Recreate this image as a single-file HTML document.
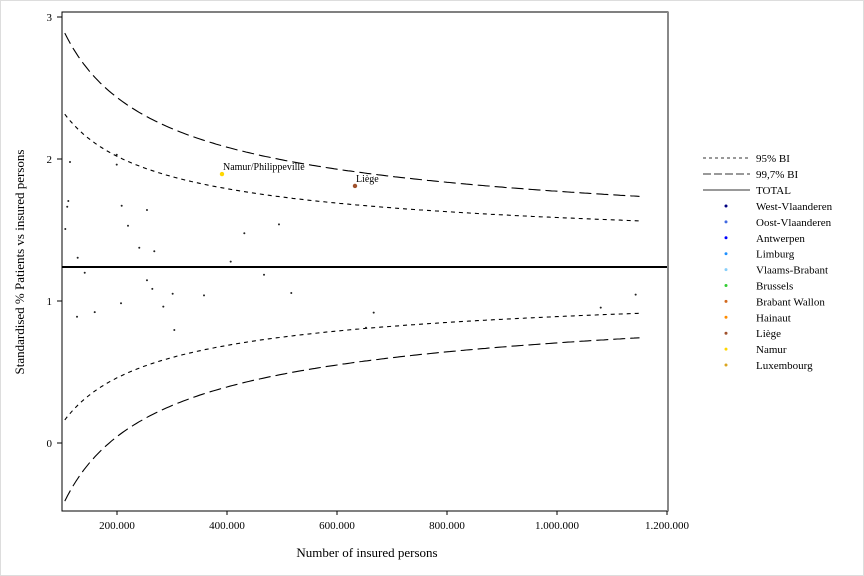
<!DOCTYPE html>
<html><head><meta charset="utf-8"><style>
body{margin:0;background:#fff;}
svg{display:block;font-family:"Liberation Serif",serif;}
</style></head><body>
<svg id="chart" width="864" height="576" viewBox="0 0 864 576">
<rect x="0.5" y="0.5" width="863" height="575" fill="#fff" stroke="#ddd"/>
<g id="plot"></g>
<g id="legend"></g>
<text x="367" y="557" font-size="13" text-anchor="middle">Number of insured persons</text>
<text transform="translate(24,262) rotate(-90)" font-size="13" text-anchor="middle">Standardised % Patients vs insured persons</text>
</svg>
<script>
const xTicks=[200000,400000,600000,800000,1000000,1200000];
const xTickLabels=["200.000","400.000","600.000","800.000","1.000.000","1.200.000"];
const yTicks=[0,1,2,3];
const yTickLabels=["0","1","2","3"];
const total=1.239;
const spreadK=178;
const pointsX=[114545,199500,199500,111500,109500,106000,208500,254500,220000,240500,267800,128500,431500,494500,406700,141300,254500,264200,467300,301200,358200,516900,207300,284200,159500,127300,304200,666700,652700,1079500,1143000];
const pointsY=[1.979,2.03,1.96,1.704,1.664,1.507,1.671,1.641,1.530,1.375,1.350,1.305,1.477,1.540,1.277,1.199,1.146,1.085,1.185,1.051,1.040,1.056,0.984,0.960,0.922,0.889,0.796,0.918,0.812,0.953,1.045];
const labelNames=["Namur/Philippeville","Liège"];
const labelX=[390900,632700];
const labelY=[1.894,1.810];
const labelColors=["#ffd700","#a0522d"];
const legendNames=["West-Vlaanderen","Oost-Vlaanderen","Antwerpen","Limburg","Vlaams-Brabant","Brussels","Brabant Wallon","Hainaut","Liège","Namur","Luxembourg"];
const legendColors=["#000080","#4169e1","#0000ff","#1e90ff","#87cefa","#32cd32","#d2691e","#ff8c00","#a0522d","#ffd700","#daa520"];

const NS="http://www.w3.org/2000/svg";
const L=62,R=668,T=12,B=511;
const xs=v=>117+(v-200000)*0.00055;
const ys=v=>443-142*v;
const plot=document.getElementById('plot');
function mk(tag,attrs,parent){const e=document.createElementNS(NS,tag);for(const k in attrs)e.setAttribute(k,attrs[k]);(parent||plot).appendChild(e);return e;}

// clip
const defs=mk('defs',{});
const cp=mk('clipPath',{id:'clip'},defs);mk('rect',{x:L,y:T,width:R-L,height:B-T},cp);
const inner=mk('g',{'clip-path':'url(#clip)'});

// control limits
function curve(z,sign){let d='';for(let n=105000;n<=1150000;n+=5000){const v=total+sign*z*spreadK/Math.sqrt(n);d+=(d?'L':'M')+xs(n).toFixed(1)+','+ys(v).toFixed(1);}return d;}
[[1.96,'4,4','ci95'],[3,'12,5','ci997']].forEach(([z,da,nm])=>{[1,-1].forEach(s=>{
const p=mk('path',{d:curve(z,s),fill:'none',stroke:'#000','stroke-width':1.1,'stroke-dasharray':da},inner);

});});
const tl=mk('line',{x1:L,x2:R,y1:ys(total),y2:ys(total),stroke:'#000','stroke-width':2},inner);



pointsX.forEach((x,i)=>{const c=mk('circle',{cx:xs(x),cy:ys(pointsY[i]),r:1,fill:'#222'},inner);

});
labelNames.forEach((n,i)=>{const c=mk('circle',{cx:xs(labelX[i]),cy:ys(labelY[i]),r:2.2,fill:labelColors[i]},inner);


const t=mk('text',{x:xs(labelX[i])+1,y:ys(labelY[i])-4,'font-size':10},inner);t.textContent=n;

});

// frame
const fr=mk('rect',{x:L,y:T,width:R-L,height:B-T,fill:'none',stroke:'#000','stroke-width':1});


mk('line',{x1:R,x2:R,y1:T,y2:B,stroke:'#888','stroke-width':2});

xTicks.forEach((v,i)=>{mk('line',{x1:xs(v),x2:xs(v),y1:B,y2:B+4,stroke:'#000'});
const t=mk('text',{x:xs(v),y:B+18,'font-size':11,'text-anchor':'middle'});t.textContent=xTickLabels[i];

});
yTicks.forEach((v,i)=>{mk('line',{x1:L-5,x2:L,y1:ys(v),y2:ys(v),stroke:'#000'});
const t=mk('text',{x:L-10,y:ys(v)+4,'font-size':11,'text-anchor':'end'});t.textContent=yTickLabels[i];

});

// legend
const lg=document.getElementById('legend');
const lineItems=[['95% BI','3,3'],['99,7% BI','8,3'],['TOTAL','']];
lineItems.forEach(([n,da],i)=>{const y=158+i*16;
const l=mk('line',{x1:703,x2:750,y1:y,y2:y,stroke:'#333','stroke-width':1},lg);if(da)l.setAttribute('stroke-dasharray',da);
const t=mk('text',{x:756,y:y+4,'font-size':11},lg);t.textContent=n;

});
legendNames.forEach((n,i)=>{const y=206+i*15.9;
mk('circle',{cx:726,cy:y,r:1.5,fill:legendColors[i]},lg);
const t=mk('text',{x:756,y:y+4,'font-size':11},lg);t.textContent=n;

});
</script>
</body></html>
